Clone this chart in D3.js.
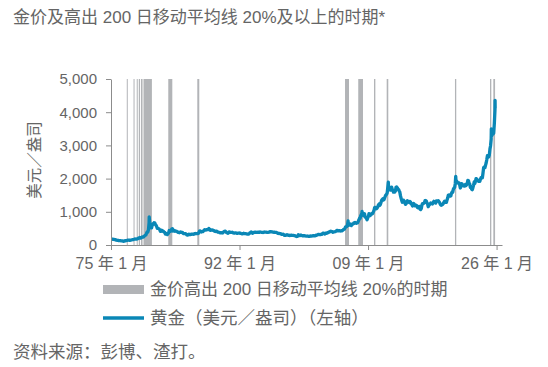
<!DOCTYPE html>
<html>
<head>
<meta charset="utf-8">
<script src="https://cdn.jsdelivr.net/npm/d3@7/dist/d3.min.js"></script>
<style>
  body { margin: 0; background: #fff; }
  text { font-family: "Liberation Sans", Arial, "Noto Sans CJK SC", sans-serif; fill: #656565; }
</style>
</head>
<body>
<div id="chart"></div>
<script>
const titleText = "金价及高出 200 日移动平均线 20%及以上的时期*";
const yLabel = "美元／盎司";
const legendBand = "金价高出 200 日移动平均线 20%的时期";
const legendLine = "黄金（美元／盎司）（左轴）";
const sourceText = "资料来源：彭博、渣打。";

// monthly averages, USD/oz, Jan 1975 .. Oct 2025
const goldStart = 1975;
const goldMonthly = [
  176, 180, 178, 168, 167, 164, 165, 163, 144, 143, 142, 139,
  131, 131, 133, 128, 127, 126, 118, 110, 114, 117, 131, 133,
  132, 136, 148, 149, 147, 141, 143, 145, 150, 158, 162, 160,
  173, 178, 184, 175, 177, 183, 189, 206, 212, 227, 206, 208,
  227, 245, 242, 239, 257, 279, 295, 301, 355, 392, 392, 456,
  675, 665, 554, 517, 514, 600, 645, 627, 673, 662, 623, 596,
  557, 500, 499, 496, 480, 461, 409, 410, 443, 437, 413, 410,
  384, 374, 330, 350, 334, 315, 339, 364, 436, 422, 414, 444,
  481, 491, 420, 432, 438, 413, 422, 416, 411, 394, 382, 388,
  371, 386, 395, 382, 377, 378, 347, 348, 341, 340, 341, 320,
  303, 299, 304, 324, 317, 317, 317, 330, 324, 326, 325, 322,
  345, 339, 346, 340, 342, 343, 348, 376, 418, 423, 396, 391,
  408, 401, 409, 438, 460, 450, 450, 461, 460, 465, 467, 487,
  477, 442, 444, 452, 451, 452, 437, 431, 413, 406, 420, 419,
  404, 388, 390, 384, 371, 367, 375, 365, 362, 367, 394, 409,
  410, 417, 393, 374, 369, 352, 362, 395, 389, 381, 381, 378,
  384, 364, 363, 358, 357, 367, 368, 356, 348, 359, 360, 361,
  354, 354, 345, 338, 337, 341, 353, 343, 345, 344, 335, 334,
  329, 330, 330, 342, 367, 372, 392, 379, 355, 364, 374, 383,
  387, 382, 384, 378, 381, 386, 385, 380, 392, 390, 384, 379,
  379, 377, 382, 391, 385, 387, 386, 383, 383, 383, 386, 387,
  400, 405, 396, 393, 392, 385, 383, 387, 383, 381, 378, 369,
  355, 346, 352, 344, 344, 341, 324, 324, 323, 325, 306, 289,
  289, 297, 296, 308, 300, 293, 293, 284, 289, 296, 294, 291,
  287, 287, 286, 282, 277, 262, 256, 257, 265, 311, 293, 283,
  285, 300, 286, 280, 275, 285, 282, 274, 273, 270, 266, 272,
  266, 262, 263, 261, 272, 270, 268, 273, 283, 283, 276, 276,
  282, 296, 294, 302, 314, 321, 313, 310, 319, 317, 319, 333,
  357, 359, 340, 328, 355, 356, 351, 360, 378, 379, 390, 407,
  414, 405, 406, 404, 384, 392, 398, 400, 405, 420, 439, 442,
  424, 423, 434, 429, 422, 431, 424, 438, 456, 470, 476, 510,
  549, 555, 557, 610, 676, 596, 633, 632, 598, 586, 628, 629,
  631, 665, 655, 680, 668, 655, 665, 665, 713, 754, 806, 803,
  889, 922, 968, 909, 888, 889, 939, 839, 829, 806, 760, 816,
  858, 943, 924, 890, 928, 946, 934, 949, 996, 1043, 1127, 1135,
  1118, 1095, 1113, 1149, 1205, 1233, 1193, 1215, 1271, 1343, 1370, 1392,
  1356, 1372, 1424, 1474, 1510, 1529, 1573, 1756, 1772, 1666, 1739, 1652,
  1656, 1743, 1675, 1649, 1591, 1598, 1594, 1630, 1745, 1747, 1721, 1685,
  1671, 1627, 1593, 1487, 1414, 1343, 1286, 1347, 1349, 1316, 1275, 1225,
  1244, 1300, 1336, 1299, 1287, 1279, 1311, 1296, 1239, 1222, 1176, 1201,
  1251, 1227, 1179, 1198, 1199, 1181, 1129, 1118, 1125, 1159, 1086, 1068,
  1097, 1199, 1246, 1242, 1260, 1276, 1337, 1340, 1326, 1267, 1236, 1152,
  1192, 1234, 1231, 1266, 1246, 1260, 1236, 1283, 1315, 1280, 1283, 1265,
  1331, 1331, 1325, 1335, 1303, 1282, 1238, 1202, 1198, 1215, 1221, 1250,
  1291, 1320, 1300, 1285, 1284, 1359, 1413, 1500, 1511, 1495, 1471, 1480,
  1560, 1597, 1591, 1683, 1716, 1732, 1846, 1968, 1922, 1900, 1866, 1858,
  1867, 1808, 1718, 1760, 1850, 1834, 1807, 1785, 1775, 1777, 1821, 1790,
  1817, 1856, 1948, 1937, 1849, 1837, 1733, 1764, 1681, 1665, 1726, 1798,
  1898, 1855, 1913, 2000, 1991, 1943, 1951, 1918, 1916, 1916, 1985, 2030,
  2034, 2024, 2159, 2331, 2351, 2326, 2398, 2470, 2572, 2690, 2651, 2648,
  2708, 2895, 2983, 3193, 3287, 3352, 3340, 3368, 3665, 4058
];

// daily extremes that the monthly averages smooth away
const spikeDates = ["1980-01-21", "1987-12-14", "2006-05-12", "2008-03-17", "2011-09-06", "2020-08-06", "2025-04-22", "2025-10-20", "2025-10-24"];
const spikeValues = [850, 500, 725, 1011, 1895, 2067, 3500, 4356, 4120];

// periods with gold 20%+ above its 200-day moving average
const bandStarts = ["1977-02-01", "1977-12-25", "1978-05-28", "1978-09-05", "1978-12-20", "1979-04-20", "1982-07-30", "1986-06-01", "2005-12-15", "2007-09-15", "2009-10-15", "2011-06-20", "2020-07-01", "2025-02-18", "2025-07-28"];
const bandEnds   = ["1977-03-05", "1978-01-22", "1978-07-12", "1978-11-05", "1979-03-05", "1980-05-30", "1983-02-10", "1986-09-05", "2006-06-25", "2008-05-01", "2009-12-20", "2011-09-05", "2020-09-01", "2025-04-22", "2025-10-20"];

const xTicks = ["1975-01-01", "1992-01-01", "2009-01-01", "2026-01-01"];
const yTicks = [0, 1000, 2000, 3000, 4000, 5000];

const W = 548, H = 367;
const parse = d3.timeParse("%Y-%m-%d");

const series = goldMonthly
  .map((v, i) => ({ date: new Date(goldStart + Math.floor(i / 12), i % 12, 15), value: v }))
  .concat(spikeDates.map((d, i) => ({ date: parse(d), value: spikeValues[i] })))
  .sort((a, b) => a.date - b.date);

const svg = d3.select("#chart").append("svg").attr("width", W).attr("height", H);

const x = d3.scaleTime()
  .domain([new Date(1975, 0, 1), new Date(2026, 8, 20)])
  .range([111, 502]);
const y = d3.scaleLinear().domain([0, 5000]).range([245, 79]);

svg.append("text")
  .attr("x", 13).attr("y", 23)
  .style("font-size", "17px")
  .text(titleText);

// bands
svg.append("g")
  .selectAll("rect")
  .data(bandStarts.map((s, i) => [parse(s), parse(bandEnds[i])]))
  .join("rect")
  .attr("x", (d) => x(d[0]))
  .attr("width", (d) => Math.max(1, x(d[1]) - x(d[0])))
  .attr("y", y(5000))
  .attr("height", y(0) - y(5000))
  .attr("fill", "#b2b4b7");

// gold line
svg.append("path")
  .datum(series)
  .attr("fill", "none")
  .attr("stroke", "#0a87b6")
  .attr("stroke-width", 3.3)
  .attr("stroke-linejoin", "round")
  .attr("d", d3.line().x((d) => x(d.date)).y((d) => y(d.value)));

const yAxis = svg.append("g")
  .attr("transform", "translate(111,0)")
  .call(d3.axisLeft(y).tickValues(yTicks).tickFormat(d3.format(",")).tickSize(5).tickSizeOuter(0).tickPadding(9));

const xAxis = svg.append("g")
  .attr("transform", `translate(0,${y(0)})`)
  .call(d3.axisBottom(x).tickValues(xTicks.map(parse))
    .tickFormat((d) => d3.timeFormat("%y")(d) + " 年 1 月")
    .tickSize(5).tickSizeOuter(0).tickPadding(8));

[yAxis, xAxis].forEach((g) => {
  g.selectAll("path, line").attr("stroke", "#8c8c8c");
  g.selectAll("text").style("font-size", "15px").attr("fill", "#656565");
});
xAxis.selectAll("text").style("font-size", "16px");

svg.append("text")
  .attr("transform", "translate(35,160) rotate(-90)")
  .attr("text-anchor", "middle")
  .attr("dy", "0.35em")
  .style("font-size", "15.5px")
  .text(yLabel);

// legend
svg.append("rect")
  .attr("x", 103).attr("y", 285).attr("width", 41).attr("height", 9)
  .attr("fill", "#b2b4b7");
svg.append("text")
  .attr("x", 150).attr("y", 295)
  .style("font-size", "17px")
  .text(legendBand);

svg.append("line")
  .attr("x1", 103).attr("x2", 144).attr("y1", 318).attr("y2", 318)
  .attr("stroke", "#0a87b6").attr("stroke-width", 3.5);
svg.append("text")
  .attr("x", 150).attr("y", 324)
  .style("font-size", "17.5px")
  .text(legendLine);

svg.append("text")
  .attr("x", 13).attr("y", 358)
  .style("font-size", "17.5px")
  .text(sourceText);
</script>
</body>
</html>
